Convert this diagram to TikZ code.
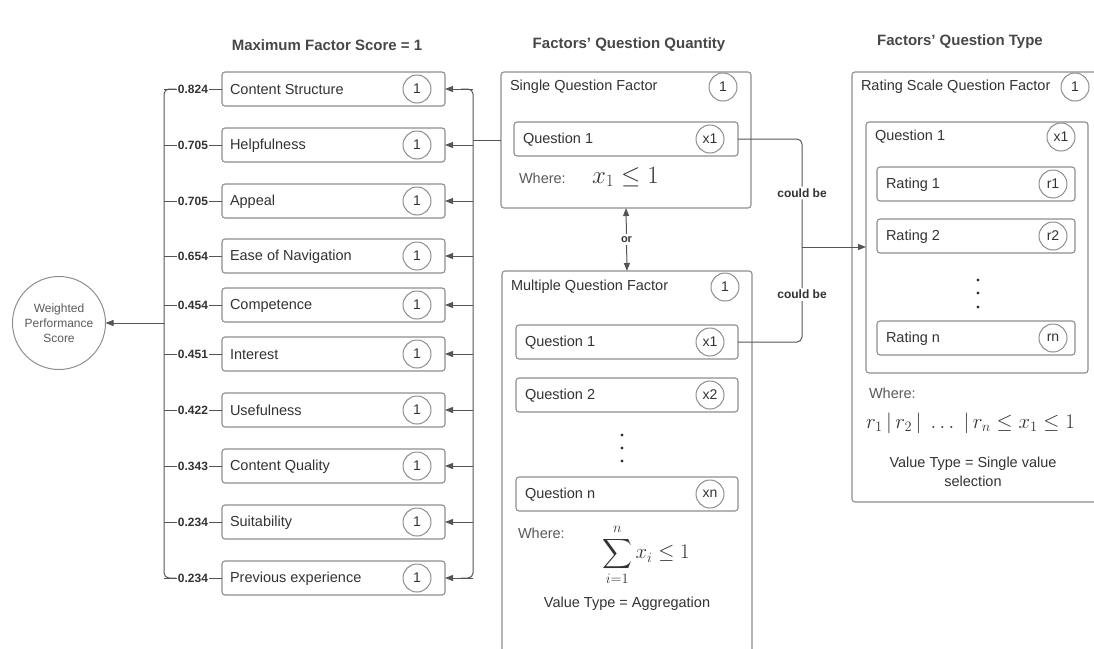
\documentclass[tikz,border=0pt]{standalone}
\usepackage{exscale}
\usepackage{fontspec}
\setmainfont{Liberation Sans}
\usetikzlibrary{arrows.meta,calc}
\definecolor{ink}{HTML}{333333}
\definecolor{soft}{HTML}{5A5A5A}
\definecolor{edge}{HTML}{8E8E8E}
\definecolor{wirec}{HTML}{555555}

\begin{document}
\begin{tikzpicture}[x=1pt,y=-1pt,
  every node/.style={inner sep=0pt, outer sep=0pt, text=ink},
  card/.style={draw=edge, line width=1.1pt, rounded corners=3pt, fill=white},
  tag/.style={circle, draw=edge, line width=1pt, minimum size=28pt, font=\fontsize{14}{16}\selectfont},
  lbl/.style={anchor=west, font=\fontsize{14.5}{17}\selectfont},
  where/.style={anchor=west, text=soft, font=\fontsize{14.5}{17}\selectfont},
  wlbl/.style={fill=white, font=\bfseries\fontsize{12}{14}\selectfont, inner xsep=1pt, inner ysep=1pt},
  cb/.style={fill=white, font=\bfseries\fontsize{12}{14}\selectfont, inner sep=2pt},
  head/.style={text=ink!90, font=\bfseries\fontsize{15}{18}\selectfont},
  wire/.style={draw=wirec, line width=1pt},
  arr/.style={wire, -{Triangle[length=8pt,width=6pt]}},
  dotc/.style={circle, fill=ink, minimum size=3.2pt},
]
\useasboundingbox (0,0) rectangle (1094,648);
\clip (0,0) rectangle (1094,648);

% column headings
\node[head] (h1) at (327,45) {Maximum Factor Score = 1};
\node[head] (h2) at (629,45) {Factors' Question Quantity};
\node[head] (h3) at (960,42) {Factors' Question Type};

% bus lines
\coordinate (busL) at (164,0);
\coordinate (busR) at (473,0);
\coordinate (jL) at (164,323);
\coordinate (jR) at (473,140);

% factor rows
\foreach \y/\t/\w [count=\i] in {
  89/Content Structure/0.824,
  145/Helpfulness/0.705,
  201/Appeal/0.705,
  256/Ease of Navigation/0.654,
  305/Competence/0.454,
  354/Interest/0.451,
  410/Usefulness/0.422,
  466/Content Quality/0.343,
  522/Suitability/0.234,
  578/Previous experience/0.234}{
  \node[card, minimum width=223pt, minimum height=34pt] (f\i) at (333.5,\y) {};
  \node[lbl] (f\i t) at ($(f\i.west)+(8,0.5)$) {\t};
  \node[tag] (f\i c) at (417,\y) {1};
  \draw[wire] (f\i.west) -- node[wlbl]{\w} (f\i.west -| busL);
  \draw[arr] (f\i.east -| busR) -- (f\i.east);
}

\draw[wire, rounded corners=5pt] ($(f1.west -| busL)+(12,0)$) -- (f1.west -| busL) -- (f10.west -| busL) -- ($(f10.west -| busL)+(12,0)$);
\draw[wire, rounded corners=5pt] ($(f1.east -| busR)+(-12,0)$) -- (f1.east -| busR) -- (f10.east -| busR) -- ($(f10.east -| busR)+(-12,0)$);

% weighted score
\node[circle, draw=edge, line width=1pt, minimum size=93pt, align=center, text=soft,
      font=\fontsize{12}{15}\selectfont] (wps) at (59,323) {Weighted\\Performance\\Score};
\draw[arr] (jL) -- (wps);

% single question factor
\node[card, minimum width=250pt, minimum height=136pt] (single) at (626,140) {};
\node[lbl] (singleT) at (510,87) {Single Question Factor};
\node[tag] (singleC) at (723,87) {1};
\node[card, minimum width=224pt, minimum height=34pt] (sq1) at (626,139) {};
\node[lbl] (sq1t) at (523,139.5) {Question 1};
\node[tag] (sq1c) at (710,139) {x1};
\node[where] (sw) at (519,178) {Where:};
\node[anchor=west, font=\fontsize{24}{28}\selectfont] (sm) at (592,177) {$x_1 \leq 1$};
\draw[wire] (jR) -- (jR -| single.west);

% multiple question factor
\node[card, minimum width=250pt, minimum height=420pt] (multi) at (627,481) {};
\node[lbl] (multiT) at (511,287) {Multiple Question Factor};
\node[tag] (multiC) at (725,287) {1};
\node[card, minimum width=222pt, minimum height=34pt] (mq1) at (627,342) {};
\node[lbl] (mq1t) at (525,342.5) {Question 1};
\node[tag] (mq1c) at (710,342) {x1};
\node[card, minimum width=222pt, minimum height=34pt] (mq2) at (627,395) {};
\node[lbl] (mq2t) at (525,395.5) {Question 2};
\node[tag] (mq2c) at (710,395) {x2};
\node[dotc] (md1) at (622,435) {};
\node[dotc] (md2) at (622,448) {};
\node[dotc] (md3) at (622,461) {};
\node[card, minimum width=222pt, minimum height=34pt] (mqn) at (627,494) {};
\node[lbl] (mqnt) at (525,494.5) {Question n};
\node[tag] (mqnc) at (710,494) {xn};
\node[where] (mw) at (518,533) {Where:};
\node[font=\fontsize{20}{24}\selectfont] (mm) at (646,555) {$\displaystyle\sum_{i=1}^{n} x_i \leq 1$};
\node[font=\fontsize{14.5}{17}\selectfont] (mv) at (627,604) {Value Type = Aggregation};

\draw[wire, {Triangle[length=8pt,width=6pt]}-{Triangle[length=8pt,width=6pt]}]
  (single.south) -- node[fill=white, font=\bfseries\fontsize{11}{13}\selectfont, inner sep=2pt]{or} (multi.north);

% rating scale question factor
\node[card, minimum width=262pt, minimum height=430pt] (rating) at (983,287) {};
\node[lbl] (ratingT) at (861,87) {Rating Scale Question Factor};
\node[tag] (ratingC) at (1075,87) {1};
\node[card, minimum width=222pt, minimum height=251pt] (rq) at (977,247.5) {};
\node[lbl] (rqt) at (875,137) {Question 1};
\node[tag] (rqc) at (1061,137) {x1};
\node[card, minimum width=198pt, minimum height=34pt] (r1) at (976,184) {};
\node[lbl] (r1t) at (886,184.5) {Rating 1};
\node[tag] (r1c) at (1053,184) {r1};
\node[card, minimum width=198pt, minimum height=34pt] (r2) at (976,236) {};
\node[lbl] (r2t) at (886,236.5) {Rating 2};
\node[tag] (r2c) at (1053,236) {r2};
\node[dotc] (rd1) at (978,280) {};
\node[dotc] (rd2) at (978,293) {};
\node[dotc] (rd3) at (978,307) {};
\node[card, minimum width=198pt, minimum height=34pt] (rn) at (976,338) {};
\node[lbl] (rnt) at (886,338.5) {Rating n};
\node[tag] (rnc) at (1053,338) {rn};
\node[where] (rw) at (869,393) {Where:};
\node[anchor=west, font=\fontsize{22}{26}\selectfont] (rm) at (866,423)
  {$r_1\,|\,r_2\,|\;\ldots\;|\,r_n \leq x_1 \leq 1$};
\node[align=center, font=\fontsize{14.5}{19}\selectfont] (rv) at (973,472) {Value Type = Single value\\selection};

% "could be" links
\coordinate (jC) at (802,247);
\draw[wire, rounded corners=5pt] (sq1.east) -| node[pos=0.75, cb]{could be} (jC);
\draw[wire, rounded corners=5pt] (mq1.east) -| node[pos=0.75, cb]{could be} (jC);
\draw[arr] (jC) -- (jC -| rq.west);
\end{tikzpicture}
\end{document}
